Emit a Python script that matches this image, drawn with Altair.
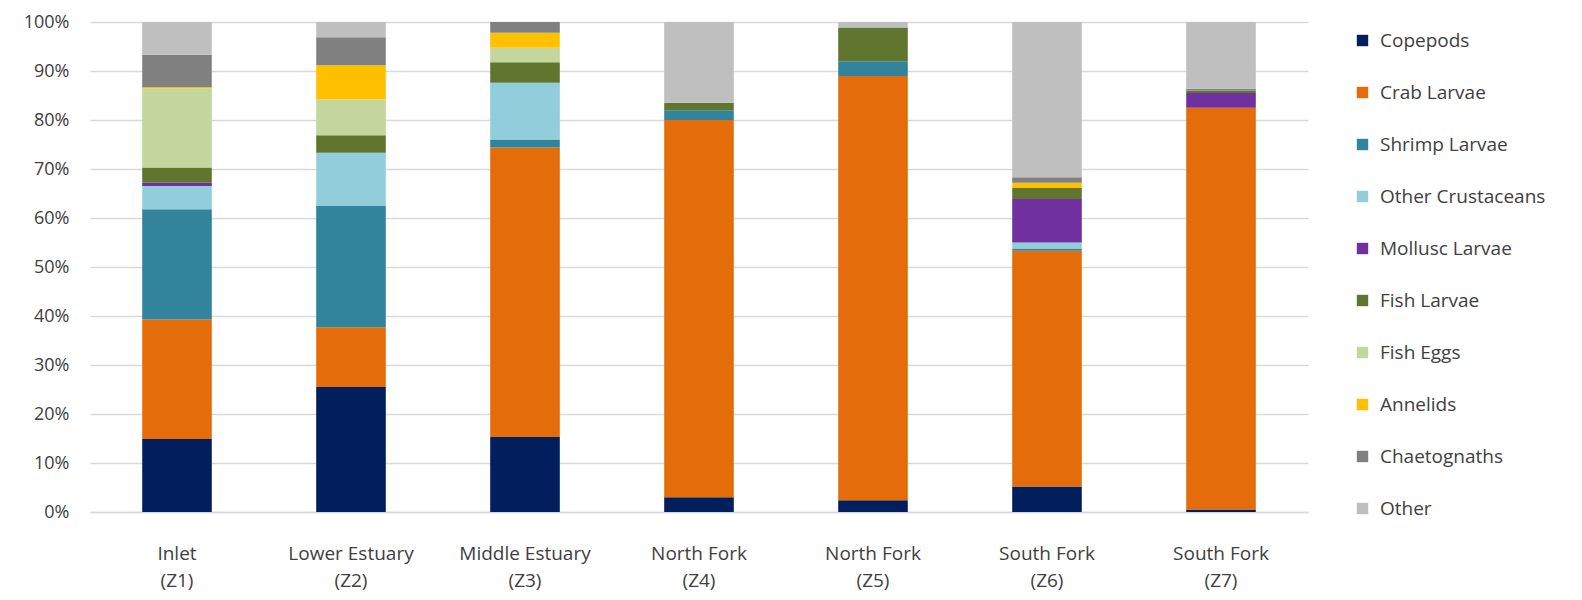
import altair as alt
import pandas as pd

sites = ["Inlet (Z1)", "Lower Estuary (Z2)", "Middle Estuary (Z3)", "North Fork (Z4)",
         "North Fork (Z5)", "South Fork (Z6)", "South Fork (Z7)"]
groups = ["Copepods", "Crab Larvae", "Shrimp Larvae", "Other Crustaceans", "Mollusc Larvae",
          "Fish Larvae", "Fish Eggs", "Annelids", "Chaetognaths", "Other"]
colors = ["#001F5C", "#E46C0A", "#31849B", "#92CDDC", "#7030A0",
          "#60762F", "#C3D69B", "#FFC000", "#808080", "#BFBFBF"]

copepods      = [14.9, 25.5, 15.3, 3.0, 2.4, 5.2, 0.5]
crab_larvae   = [24.4, 12.2, 59.1, 77.0, 86.6, 48.1, 82.0]
shrimp_larvae = [22.5, 24.7, 1.6, 2.0, 3.0, 0.5, 0.0]
other_crust   = [4.75, 10.9, 11.6, 0.0, 0.0, 1.2, 0.0]
mollusc       = [0.7, 0.0, 0.0, 0.0, 0.0, 8.9, 3.0]
fish_larvae   = [3.1, 3.55, 4.2, 1.5, 6.9, 2.2, 0.5]
fish_eggs     = [16.1, 7.3, 2.95, 0.0, 0.0, 0.0, 0.0]
annelids      = [0.3, 7.0, 3.05, 0.0, 0.0, 1.1, 0.0]
chaetognaths  = [6.6, 5.7, 2.2, 0.0, 0.0, 1.1, 0.4]
other         = [6.7, 3.1, 0.0, 16.5, 1.1, 31.7, 13.6]

series = [copepods, crab_larvae, shrimp_larvae, other_crust, mollusc,
          fish_larvae, fish_eggs, annelids, chaetognaths, other]

rows = []
for gi, (g, vals) in enumerate(zip(groups, series)):
    for s, v in zip(sites, vals):
        rows.append({"site": s, "group": g, "idx": gi, "value": v})
df = pd.DataFrame(rows)

FONT = "Open Sans"

chart = alt.Chart(df).mark_bar().encode(
    x=alt.X("site:N", sort=sites,
            scale=alt.Scale(paddingInner=0.6, paddingOuter=0.3),
            axis=alt.Axis(title=None, labelAngle=0, ticks=False, domain=True,
                          domainColor="#D9D9D9", domainWidth=1.5,
                          labelFontSize=19, labelColor="#404040", labelFont=FONT,
                          labelPadding=32, labelLineHeight=27,
                          labelExpr="[slice(datum.value, 0, indexof(datum.value, ' (')), slice(datum.value, indexof(datum.value, ' (') + 1)]")),
    y=alt.Y("value:Q", stack="normalize",
            scale=alt.Scale(domain=[0, 1], nice=False),
            axis=alt.Axis(title=None, format=".0%", values=[i / 10 for i in range(11)],
                          ticks=False, domain=False, grid=True, gridColor="#D9D9D9",
                          gridWidth=1.5, labelFontSize=18, labelColor="#404040",
                          labelFont=FONT, labelPadding=21)),
    color=alt.Color("group:N", sort=groups,
                    scale=alt.Scale(domain=groups, range=colors),
                    legend=alt.Legend(title=None, orient="none", legendX=1263, legendY=9,
                                      symbolType="square", symbolSize=130, symbolStrokeWidth=0,
                                      labelFontSize=19, labelFont=FONT, labelColor="#404040",
                                      labelLimit=0, rowPadding=32, labelOffset=8)),
    order=alt.Order("idx:Q", sort="ascending"),
).properties(
    width=1218, height=490,
    autosize=alt.AutoSizeParams(type="none"),
    padding={"left": 82, "top": 14, "right": 266, "bottom": 80},
).configure(background="white").configure_view(stroke=None)

chart.save("out.html", embed_options={"renderer": "svg", "actions": False})
